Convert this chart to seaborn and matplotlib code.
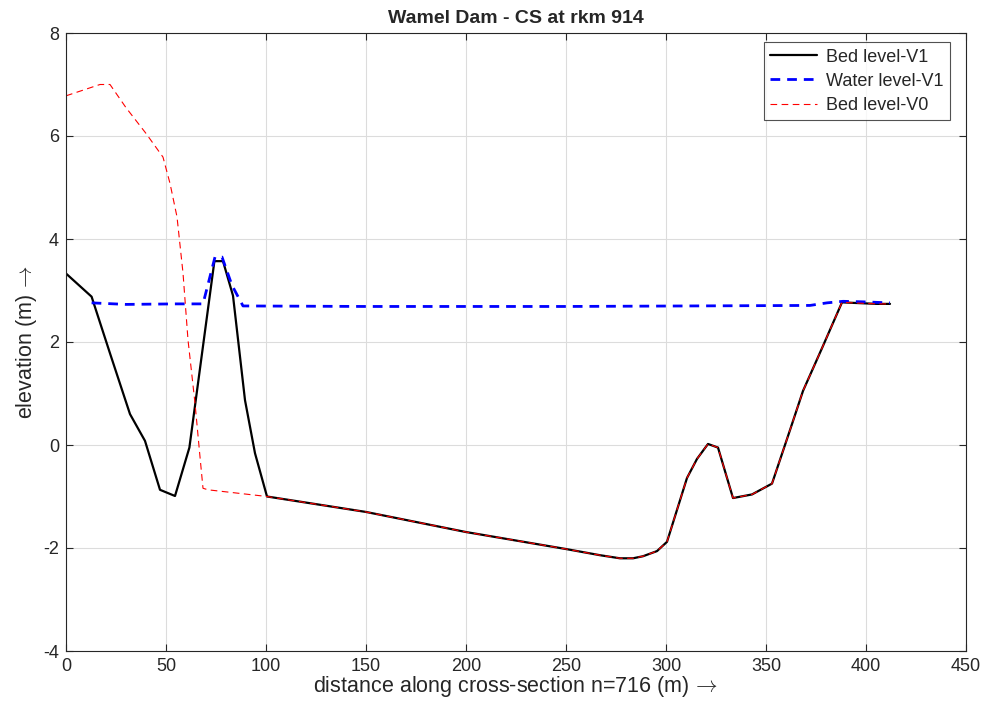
import numpy as np
import pandas as pd
import seaborn as sns
import matplotlib
matplotlib.use("Agg")
import matplotlib.pyplot as plt

# bed level V1 (black)
bed_v1_x = [0, 12.8, 22, 32, 39.5, 47, 54.5, 61.7, 74.2, 78.5, 83.5, 89.5, 94.5, 100.5,
            150, 200, 250, 267, 277, 283.5, 288.5, 295.5, 300.5, 310.5, 315.5, 321, 326,
            333.5, 343, 353, 362, 368.5, 378, 388, 393.5, 405.5, 412]
bed_v1_y = [3.33, 2.88, 1.78, 0.6, 0.08, -0.87, -0.99, -0.05, 3.57, 3.57, 2.9, 0.87, -0.16, -1.0,
            -1.3, -1.69, -2.02, -2.14, -2.2, -2.2, -2.16, -2.06, -1.88, -0.64, -0.27, 0.02, -0.05,
            -1.03, -0.96, -0.75, 0.29, 1.05, 1.88, 2.77, 2.76, 2.74, 2.74]

# water level V1 (blue dashed)
water_v1_x = [12.8, 30, 54.5, 68.5, 74.5, 78, 83, 88.5, 150, 250, 372, 380.5, 388.5, 398.5, 412]
water_v1_y = [2.76, 2.73, 2.74, 2.74, 3.65, 3.65, 3.1, 2.70, 2.69, 2.69, 2.71, 2.76, 2.79, 2.78, 2.76]

# bed level V0 (red dashed)
bed_v0_x = [0, 17, 22, 30, 40, 48.5, 52, 55.5, 58.5, 61, 64.5, 67, 68.5, 71, 100.5,
            150, 200, 250, 267, 277, 283.5, 288.5, 295.5, 300.5, 310.5, 315.5, 321, 326,
            333.5, 343, 353, 362, 368.5, 378, 388, 393.5, 405.5, 412]
bed_v0_y = [6.78, 7.0, 7.0, 6.55, 6.05, 5.59, 5.08, 4.43, 3.34, 2.04, 0.81, -0.23, -0.84, -0.87, -1.0,
            -1.3, -1.69, -2.02, -2.14, -2.2, -2.2, -2.16, -2.06, -1.88, -0.64, -0.27, 0.02, -0.05,
            -1.03, -0.96, -0.75, 0.29, 1.05, 1.88, 2.77, 2.76, 2.74, 2.74]

sns.set_theme(style="white")
plt.rcParams["font.family"] = ["Liberation Sans", "DejaVu Sans"]
plt.rcParams["axes.unicode_minus"] = False
plt.rcParams["mathtext.fontset"] = "cm"

fig = plt.figure(figsize=(9.91, 7.19), dpi=100)
ax = fig.add_axes([66 / 991, 68 / 719, 900 / 991, 618 / 719])

sns.lineplot(x=bed_v1_x, y=bed_v1_y, ax=ax, sort=False, color="black", lw=1.6,
             label="Bed level-V1")
sns.lineplot(x=water_v1_x, y=water_v1_y, ax=ax, sort=False, color="blue", lw=2.0,
             linestyle=(0, (3.5, 2.5)), label="Water level-V1")
sns.lineplot(x=bed_v0_x, y=bed_v0_y, ax=ax, sort=False, color="red", lw=0.8,
             linestyle=(0, (6, 4)), label="Bed level-V0")

ax.set_xlim(0, 450)
ax.set_ylim(-4, 8)
ax.set_xticks(np.arange(0, 451, 50))
ax.set_yticks(np.arange(-4, 9, 2))
ax.grid(True, color="#dcdcdc", lw=0.8)
ax.set_axisbelow(True)
for s in ax.spines.values():
    s.set_color("#262626")
    s.set_linewidth(0.8)
ax.tick_params(direction="in", length=5, width=0.8, color="#262626", labelsize=13,
               labelcolor="#262626", top=True, right=True, bottom=True, left=True, pad=5)

ax.set_title("Wamel Dam - CS at rkm 914", fontsize=14, fontweight="bold", pad=7)
ax.set_xlabel("distance along cross-section n=716 (m)$\\,\\rightarrow$", fontsize=15.5,
              color="#262626", labelpad=-1)
ax.set_ylabel("elevation (m)$\\,\\rightarrow$", fontsize=15.5, color="#262626", labelpad=3)

leg = ax.legend(loc="upper right", bbox_to_anchor=(0.982, 0.985), borderaxespad=0,
                fontsize=13, frameon=True, fancybox=False, edgecolor="#262626",
                handlelength=2.6, labelspacing=0.4, borderpad=0.35, handletextpad=0.5)
leg.get_frame().set_linewidth(0.8)

fig.savefig("out.png", dpi=100, facecolor="white")
